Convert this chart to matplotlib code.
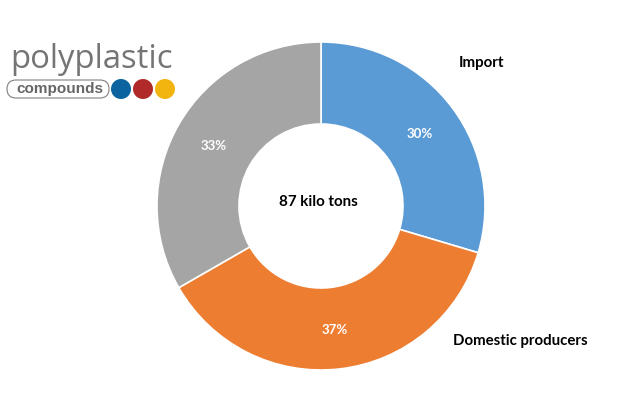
import matplotlib
matplotlib.use('Agg')
import matplotlib.pyplot as plt
from matplotlib.patches import Circle, FancyBboxPatch

shares = [29.6, 37.1, 33.3]
labels = ['30%', '37%', '33%']
colors = ['#5B9BD5', '#ED7D31', '#A5A5A5']
total_label = '87 kilo tons'
names = ['Import', 'Domestic producers']
logo_top = 'polyplastic'
logo_bottom = 'compounds'
logo_colors = ['#0B64A0', '#B02A2A', '#F2B50F']

plt.rcParams['font.family'] = ['Lato', 'DejaVu Sans']

fig = plt.figure(figsize=(6.24, 4.04), dpi=100)

# donut gets its own axes, placed in pixels of the figure
pie_ax = fig.add_axes([157 / 624, (404 - 370) / 404, 328 / 624, 328 / 404])
pie_ax.pie(shares, colors=colors, startangle=90, counterclock=False, radius=1,
           wedgeprops=dict(width=0.5, edgecolor='white', linewidth=1.2))
pie_ax.set_xlim(-1, 1)
pie_ax.set_ylim(-1, 1)

ax = fig.add_axes([0, 0, 1, 1])
ax.set_xlim(0, 624)
ax.set_ylim(404, 0)
ax.axis('off')
ax.patch.set_alpha(0)

ax.text(420, 134, labels[0], color='white', fontsize=9.5, fontweight='bold', ha='center', va='center')
ax.text(335, 330, labels[1], color='white', fontsize=9.5, fontweight='bold', ha='center', va='center')
ax.text(214, 146, labels[2], color='white', fontsize=9.5, fontweight='bold', ha='center', va='center')
ax.text(318.5, 202.5, total_label, color='black', fontsize=10.9, fontweight='bold', ha='center', va='center')
ax.text(459, 63.5, names[0], color='black', fontsize=10.9, fontweight='bold', ha='left', va='center')
ax.text(453, 341.5, names[1], color='black', fontsize=10.8, fontweight='bold', ha='left', va='center')

# logo
ax.text(10, 68, logo_top, color='#757575', fontsize=23.7, ha='left', va='baseline', family=['Open Sans', 'DejaVu Sans'])
ax.add_patch(FancyBboxPatch((7, 80), 102, 18, boxstyle='round,pad=0,rounding_size=9',
                            facecolor='white', edgecolor='#808080', linewidth=0.8))
ax.text(59.5, 89, logo_bottom, color='#666666', fontsize=11, fontweight='bold', ha='center', va='center',
        family=['Liberation Sans', 'DejaVu Sans'])
for cx, c in zip([121, 143, 165], logo_colors):
    ax.add_patch(Circle((cx, 89), 10, facecolor=c, edgecolor='none'))

fig.savefig('out.png', dpi=100)
